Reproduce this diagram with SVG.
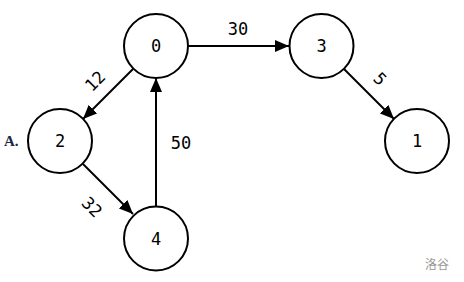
<svg xmlns="http://www.w3.org/2000/svg" width="464" height="282" viewBox="0 0 464 282">
<style>
.node circle{fill:#fff;stroke:#000;stroke-width:2}
.node text,.lbl{font-family:"DejaVu Sans Mono",monospace;font-size:17px;fill:#000;text-anchor:middle;dominant-baseline:central}
.edges line{stroke:#000;stroke-width:2;marker-end:url(#ah)}
</style>
<defs>
<marker id="ah" markerWidth="14" markerHeight="12" refX="14" refY="6" orient="auto" markerUnits="userSpaceOnUse">
<path d="M0,0 L14,6 L0,12 Z" fill="#000"/>
</marker>
</defs>
<rect width="464" height="282" fill="#fff"/>
<g class="edges">
<line x1="188" y1="46" x2="289" y2="46"/>
<line x1="133" y1="69" x2="83" y2="119"/>
<line x1="344" y1="69" x2="394" y2="119"/>
<line x1="83" y1="164" x2="133" y2="214"/>
<line x1="156" y1="206" x2="156" y2="78"/>
<text class="lbl" x="238" y="29">30</text>
<text class="lbl" x="181" y="143">50</text>
<text class="lbl" transform="translate(95,81) rotate(-45)">12</text>
<text class="lbl" transform="translate(92,207) rotate(45)">32</text>
<text class="lbl" transform="translate(380,79) rotate(45)">5</text>
</g>
<g id="n0" class="node"><circle cx="156" cy="46" r="32"/><text x="156" y="46">0</text></g>
<g id="n3" class="node"><circle cx="321.5" cy="46" r="32"/><text x="321.5" y="46">3</text></g>
<g id="n2" class="node"><circle cx="60" cy="141" r="32"/><text x="60" y="141">2</text></g>
<g id="n1" class="node"><circle cx="417" cy="141" r="32"/><text x="417" y="141">1</text></g>
<g id="n4" class="node"><circle cx="156" cy="238.5" r="32"/><text x="156" y="238.5">4</text></g>
<text x="4" y="146" font-family="Liberation Serif, serif" font-weight="bold" font-size="15" fill="#1a2a4a">A.</text>
<text x="437" y="263" font-family="Noto Sans CJK SC, sans-serif" font-size="12" fill="#999" text-anchor="middle" dominant-baseline="central">洛谷</text>
</svg>
